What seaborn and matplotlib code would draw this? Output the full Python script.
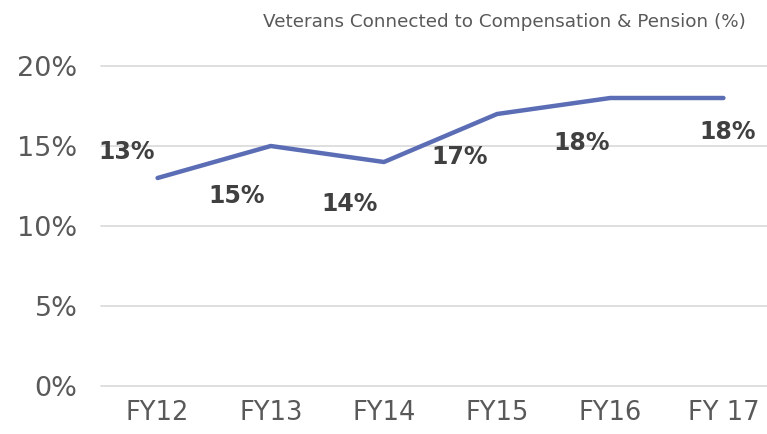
import matplotlib
matplotlib.use("Agg")
import matplotlib.pyplot as plt
import seaborn as sns
import pandas as pd

years = ["FY12", "FY13", "FY14", "FY15", "FY16", "FY 17"]
values = [13, 15, 14, 17, 18, 18]
label_dx = [-0.27, -0.30, -0.30, -0.33, -0.25, 0.04]
label_dy = [1.6, -3.1, -2.6, -2.7, -2.8, -2.1]

sns.set_theme(style="white")
plt.rcParams['font.family'] = ['DejaVu Sans']

df = pd.DataFrame({"year": years, "value": values})

fig = plt.figure(figsize=(7.67, 4.34), dpi=100)
ax = fig.add_axes([101/767, (434-386)/434, (780-101)/767, 320/434])

sns.lineplot(data=df, x="year", y="value", ax=ax, color="#5B6DB5", linewidth=3.2,
             sort=False, solid_capstyle="round")

ax.set_xlim(-0.5, 5.5)
ax.set_ylim(0, 20)
ax.set_yticks([0, 5, 10, 15, 20])
ax.set_yticklabels([f"{v}%" for v in [0, 5, 10, 15, 20]])
ax.grid(axis="y", color="#d9d9d9", linewidth=1.2)
for gl in ax.yaxis.get_gridlines():
    gl.set_clip_on(False)
ax.set_axisbelow(True)
for s in ax.spines.values():
    s.set_visible(False)
ax.set_xlabel("")
ax.set_ylabel("")
ax.tick_params(axis="y", labelsize=19.5, colors="#595959", pad=17, length=0)
ax.tick_params(axis="x", labelsize=18.5, colors="#595959", pad=10, length=0)

for i, v in enumerate(values):
    ax.text(i + label_dx[i], v + label_dy[i], f"{v}%", ha="center", va="center",
            fontsize=17, fontweight="bold", color="#404040")

fig.text(504/767, 1 - 22/434, "Veterans Connected to Compensation & Pension (%)",
         ha="center", va="center", fontsize=13.2, color="#595959")

fig.savefig("out.png", dpi=100)
